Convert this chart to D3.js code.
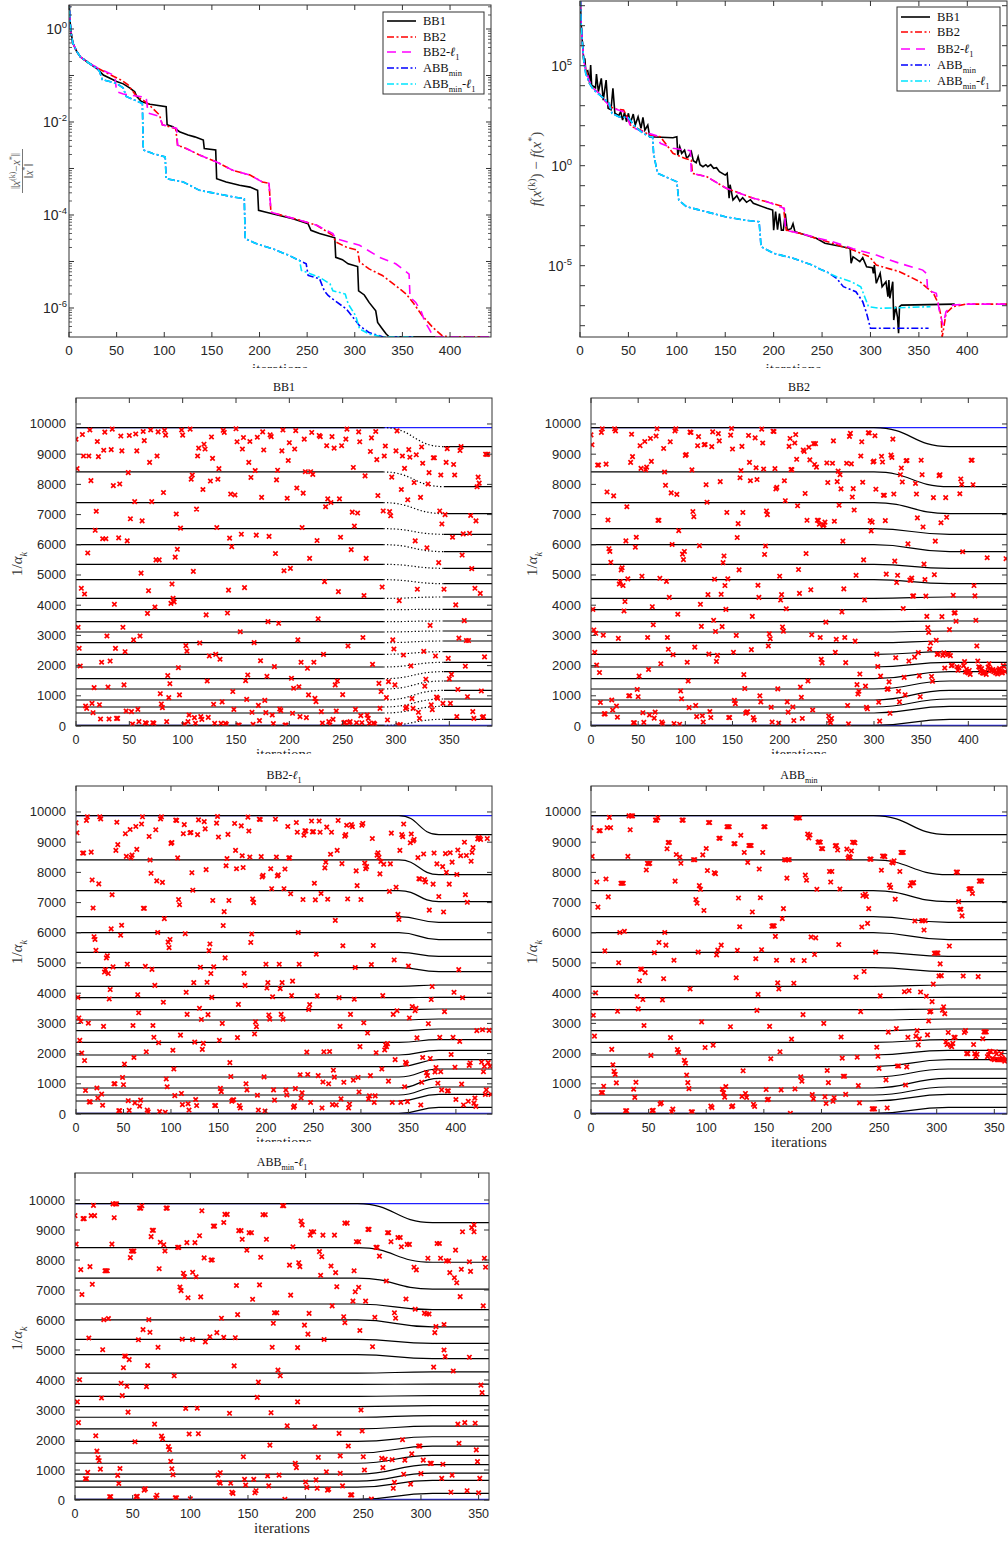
<!DOCTYPE html>
<html>
<head>
<meta charset="utf-8">
<script src="https://cdn.jsdelivr.net/npm/d3@7"></script>
<style>
body { margin: 0; background: #fff; }
svg { display: block; }
</style>
</head>
<body>
<svg id="fig" width="1008" height="1541"></svg>
<script>
// ---------- data: convergence curves, [iteration, log10 value] ----------
var errStart = [[0,0.7],[1,0.2],[2,-0.05],[4,-0.30],[8,-0.48],[12,-0.60],[20,-0.72]];
var errBB1 = [[30,-0.86],[36,-0.99],[43,-1.06],[50,-1.13],[57,-1.18],[64,-1.27],[69,-1.35],[71,-1.45],[76,-1.56],[85,-1.62],[102,-1.67],[103,-2.06],[109,-2.10],[116,-2.21],[125,-2.28],[132,-2.32],[141,-2.39],[142,-2.57],[154,-2.60],[155,-3.22],[165,-3.29],[179,-3.36],[190,-3.40],[198,-3.47],[199,-3.90],[207,-3.94],[221,-4.01],[235,-4.08],[251,-4.19],[254,-4.33],[263,-4.40],[279,-4.49],[280,-4.91],[287,-4.96],[293,-5.05],[303,-5.11],[304,-5.63],[310,-5.72],[315,-5.88],[322,-6.06],[324,-6.31],[329,-6.45],[333,-6.56],[336,-6.62],[388,-6.62]];
var errBB2 = [[30,-0.84],[40,-0.95],[47,-1.02],[55,-1.10],[62,-1.20],[71,-1.45],[80,-1.56],[85,-1.65],[95,-1.85],[98,-2.06],[112,-2.14],[114,-2.50],[123,-2.57],[137,-2.71],[155,-2.86],[172,-3.04],[190,-3.14],[203,-3.29],[210,-3.32],[212,-3.94],[224,-4.01],[242,-4.11],[260,-4.22],[277,-4.44],[280,-4.58],[291,-4.69],[303,-4.76],[305,-5.01],[315,-5.16],[329,-5.30],[343,-5.52],[354,-5.70],[361,-5.88],[371,-6.17],[382,-6.42],[392,-6.60],[399,-6.62],[443,-6.62]];
var errBB2L1 = [[30,-0.84],[40,-0.93],[48,-1.00],[50,-1.35],[57,-1.40],[81,-1.47],[83,-1.81],[95,-1.88],[98,-2.06],[113,-2.14],[114,-2.50],[123,-2.57],[137,-2.71],[155,-2.86],[172,-3.04],[190,-3.14],[203,-3.29],[210,-3.32],[212,-3.94],[224,-4.01],[242,-4.11],[260,-4.22],[277,-4.40],[280,-4.51],[305,-4.65],[326,-4.91],[343,-5.05],[357,-5.27],[358,-5.77],[364,-5.88],[370,-6.09],[373,-6.27],[378,-6.45],[382,-6.60],[385,-6.62],[443,-6.62]];
var errABB = [[30,-0.86],[32,-0.91],[35,-1.09],[50,-1.17],[57,-1.27],[60,-1.45],[77,-1.60],[78,-2.60],[88,-2.68],[101,-2.75],[102,-3.22],[120,-3.29],[137,-3.47],[155,-3.54],[172,-3.61],[184,-3.65],[185,-4.51],[197,-4.62],[214,-4.73],[231,-4.87],[242,-4.98]];
var errABBmin = [[249,-5.05],[251,-5.30],[263,-5.37],[268,-5.63],[272,-5.73],[277,-5.81],[291,-6.02],[298,-6.20],[305,-6.38],[315,-6.53],[326,-6.60],[329,-6.62],[360,-6.62]];
var errABBminL1 = [[244,-5.19],[263,-5.34],[274,-5.48],[277,-5.63],[290,-5.70],[293,-5.91],[301,-6.17],[305,-6.45],[315,-6.56],[326,-6.61],[329,-6.62],[362,-6.62]];

var fStart = [[0,9],[1,7.28],[2,6.45],[4,5.2]];
var fBB1 = [[5,5.37],[6,4.70],[8,4.75],[10,4.12],[11,5.03],[12,4.03],[16,3.90],[17,4.58],[19,3.70],[22,4.37],[24,3.28],[27,4.28],[29,2.87],[32,2.80],[34,3.87],[36,2.62],[40,2.50],[42,2.70],[44,2.28],[46,2.67],[48,2.20],[50,2.62],[52,2.12],[55,2.58],[57,2.03],[60,2.45],[63,1.87],[65,2.42],[67,1.78],[70,2.03],[72,1.45],[96,1.40],[100,1.45],[101,0.53],[103,0.95],[105,0.62],[108,0.78],[110,0.40],[112,0.45],[115,0.70],[117,0.25],[120,0.15],[122,0.45],[124,0.05],[127,-0.05],[130,0.05],[132,-0.05],[135,0.05],[138,-0.13],[141,-0.10],[144,-0.30],[150,-0.47],[152,-0.38],[154,-1.63],[155,-0.95],[158,-1.72],[162,-1.50],[165,-1.77],[168,-1.60],[172,-1.83],[176,-1.70],[179,-1.88],[193,-2.13],[199,-2.22],[200,-3.22],[202,-2.30],[204,-3.20],[206,-2.40],[208,-3.22],[210,-3.22],[212,-2.40],[214,-3.22],[218,-3.15],[220,-2.90],[222,-3.30],[244,-3.63],[253,-3.88],[279,-4.13],[280,-4.88],[282,-4.55],[289,-4.80],[292,-4.60],[296,-5.05],[302,-5.10],[303,-5.38],[304,-4.97],[306,-5.88],[310,-5.38],[312,-6.05],[316,-5.80],[318,-6.55],[319,-5.72],[320,-6.63],[323,-5.80],[324,-7.72],[326,-7.05],[328,-7.60],[329,-8.38],[330,-7.05],[332,-6.97],[387,-6.92]];
var fBB2 = [[6,4.8],[10,4.1],[14,3.85],[20,3.6],[25,3.3],[30,3.0],[35,2.85],[45,2.78],[48,2.5],[53,1.95],[60,1.85],[72,1.53],[83,1.45],[96,0.62],[108,0.37],[115,0.28],[116,-0.38],[131,-0.55],[151,-1.13],[165,-1.38],[179,-1.63],[193,-1.80],[210,-2.05],[213,-3.22],[227,-3.38],[244,-3.63],[261,-3.88],[282,-4.22],[299,-4.55],[306,-4.97],[330,-5.30],[351,-5.80],[365,-6.38],[370,-6.88],[373,-7.55],[374,-8.58],[376,-8.0],[378,-7.38],[385,-7.05],[399,-6.92],[443,-6.92]];
var fBB2L1 = [[6,4.8],[10,4.2],[14,3.85],[20,3.6],[25,3.3],[30,3.0],[35,2.85],[45,2.70],[50,2.3],[52,1.95],[65,1.7],[79,1.5],[83,1.12],[96,0.87],[114,0.75],[115,-0.38],[131,-0.55],[151,-1.13],[165,-1.38],[179,-1.63],[193,-1.80],[211,-2.13],[212,-3.0],[214,-3.25],[227,-3.38],[244,-3.60],[261,-3.80],[282,-4.15],[306,-4.47],[330,-4.88],[354,-5.22],[358,-5.40],[359,-6.22],[368,-6.38],[371,-7.22],[375,-7.97],[378,-7.30],[385,-6.97],[399,-6.92],[443,-6.92]];
var fABB = [[6,4.6],[10,4.1],[14,3.8],[20,3.55],[25,3.35],[30,3.12],[33,2.62],[40,2.45],[50,2.40],[57,1.95],[65,1.62],[72,1.45],[75,1.45],[76,0.62],[78,0.12],[80,-0.38],[88,-0.55],[100,-0.80],[102,-1.72],[110,-2.05],[130,-2.30],[150,-2.55],[170,-2.72],[185,-2.80],[187,-4.05],[200,-4.38],[220,-4.63],[240,-4.97],[250,-5.22]];
var fABBmin = [[255,-5.3],[265,-5.63],[272,-6.05],[285,-6.30],[292,-6.80],[296,-7.38],[300,-8.13],[360,-8.13]];
var fABBminL1 = [[265,-5.55],[280,-5.80],[290,-6.05],[294,-6.55],[298,-7.05],[310,-7.13],[362,-7.05]];

// ---------- data: eigenvalue tracks (start / end level of each line) ----------
var eigStart = [9879, 8411, 7395, 6534, 6004, 5353, 4845, 4227, 3852, 3455, 3113, 2759, 2373, 1954, 1567, 1225, 861, 629, 430, 20];
var eigEnd   = [9249, 7925, 7031, 6347, 5773, 5221, 4713, 4272, 3863, 3477, 3146, 2815, 2461, 2108, 1799, 1490, 1181, 894, 651, 221];
var lamExtremes = [9879, 20];

// ---------- data: 1/alpha_k per iteration ----------
var invBB1 = [9495,8520,3268,2572,1987,4560,9650,8940,4370,662,585,5730,8940,9800,8125,750,441,1270,6480,7110,9420,8920,706,232,2110,6200,9130,9730,6200,2980,1290,232,2150,9150,9830,7960,4030,2570,254,254,6230,8015,9600,9110,3268,1360,2460,497,6130,8390,9620,6860,475,66,2850,7430,9670,9110,552,144,2980,5060,6790,9750,9450,110,88,3730,4480,8730,9800,7430,110,88,3940,5500,8940,9740,5500,1070,730,607,7730,9790,9630,144,1670,940,1400,4060,4700,4230,4110,5590,7020,5850,1930,1030,6550,9800,9630,44,44,2660,2480,144,364,9830,8170,8310,5120,276,88,7180,8940,9200,2750,309,220,7830,9330,9170,3680,1490,287,2320,8110,9570,8860,718,88,2370,6570,8170,8520,2210,88,800,9790,9720,88,55,3740,4500,6220,7680,5940,1140,552,7650,9840,9410,33,33,3120,6350,9170,9550,4580,1500,880,1690,8730,9420,8230,453,55,2760,8460,6320,9560,684,177,2160,7570,9740,9140,850,442,1645,3455,6280,9640,9580,364,77,1965,5710,8150,8470,3400,563,508,9110,9800,5140,33,33,7540,8790,9380,5220,1580,420,1250,9170,9780,7880,2850,1300,309,2110,6570,7710,9500,8420,276,1910,1030,5550,8420,9720,8330,2110,915,805,6140,3550,9620,9580,475,100,2370,4780,7260,9280,7520,144,33,7400,9580,220,9200,1360,497,1490,4450,7520,6250,9280,1040,110,121,9500,9830,2650,110,144,5840,7080,8560,6620,552,110,7050,9740,9410,342,110,2930,4320,8280,5550,364,254,88,9090,9540,2040,100,66,9750,8820,7630,1410,585,1140,4600,7120,8940,9270,940,200,1470,7100,6960,8240,2850,2550,1360,9110,9770,33,4150,44,7830,8940,2350,8530,585,630,7490,9150,8900,1990,905,585,8060,6130,8980,4530,453,254,7570,9240,8700,2470,1320,1550,5900,8015,8390,3330,700,540,8880,8880,2320,960,915,5410,7120,8310,6690,750,4530,7000,8730,9180,2240,1560,750,1710,6250,8660,8310,4010,309,1210,2910,9120,9250,5660,6360,3490,1980,2830,970,2830,6380,6970,5210,475,254,4560,6790,7920,8240,8040,4390,1160,287,309,2290,9000,8990,9000];

var invBB2 = [9640,9310,3860,3180,2440,3070,2020,8640,8640,1770,780,9720,9840,3010,400,400,8670,7750,6820,5870,5780,5420,860,530,7620,
9840,9770,660,290,2900,4700,4780,5170,5240,4650,3810,4120,6130,7260,4870,1000,1000,8730,9660,8920,110,110,5920,6250,1210,
970,1650,9280,8530,4960,440,120,9420,8490,8570,2930,1870,370,9520,8760,3950,3350,260,460,9600,9840,6810,6810,4890,2060,
130,70,9190,8410,7970,4790,2930,2540,4260,9410,7720,6010,2360,80,9770,9840,7670,3700,6470,60,1160,900,5690,5510,5780,
8960,8990,2110,1490,610,9730,9720,8480,7100,6930,2610,680,310,9280,9580,5970,4030,3300,340,130,9310,9320,7990,7410,4350,
2380,480,280,9250,9740,3500,4860,3130,2140,2340,9680,9440,8090,4360,3290,5410,5630,4650,3860,7070,4870,280,280,9630,9850,
9170,2440,850,740,3000,6240,6700,5170,8220,8460,9260,7070,1700,1240,420,460,470,9620,8730,8120,2530,3630,280,200,9540,
8550,8160,4660,4260,1000,800,9830,9370,8510,5680,5960,7120,7000,2650,3050,2890,620,130,9760,9750,8520,7850,7900,1230,100,
4960,4170,4350,3280,3140,8120,7460,3880,800,460,9260,9520,8490,8490,630,180,9370,9650,8830,7290,5180,4390,1290,950,250,
9140,9090,7700,5710,6810,1490,9230,8810,4510,3020,530,9350,8660,9350,8570,6810,6810,6680,2930,2210,2090,6640,6660,6750,3440,
8710,8060,330,180,110,250,8700,9440,6780,2440,2870,8090,8440,7310,8320,7850,3780,6120,4540,2930,2100,8700,680,70,9590,
9690,8680,7580,7860,7150,2810,4990,1370,1060,1150,1720,8940,9410,8070,5500,4170,1320,620,570,9710,9700,6800,6460,6750,8740,
8770,9610,7840,2380,1970,790,160,1650,8930,8740,7640,7640,6800,5030,1220,1230,1460,420,8970,8890,9500,7680,5460,2260,4750,
4990,1150,800,8320,8540,8080,3890,1610,1030,8780,8790,6030,2150,4830,4830,4900,4300,4310,2280,8030,7680,6890,2430,1660,970,
8800,8320,6590,5360,4850,4300,3630,3260,3100,2550,2750,1640,1480,7560,5010,6120,2840,2370,2390,8290,8320,6730,3620,2340,2420,
1920,7560,6910,2380,2370,3190,2330,2000,2010,4330,3740,3750,3470,1960,1850,1930,7690,8180,8000,5770,2000,2130,1790,1880,1780,
1760,1840,1710,8800,8800,7990,4650,4310,3500,2650,2150,1960,1940,1790,1900,1760,1750,1760,1800,1710,5570,1950,2060,1900,1850,
1830,1870,1800,1840,1760,1780,1720,1850,1900,1830,1780,1760,2000,1970,1800,5540];

// BB2-l1 follows BB2 for the first 210 iterations, then:
var invBB2L1Tail = [9760,8510,7880,7920,4960,4150,3300,4350,3140,7460,8110,800,630,9520,8480,8480,7290,3920,4400,220,270,840,9650,9330,6010,4960,1300,530,700,7100,9230,9380,9370,2050,1310,3460,3620,380,9700,9340,
9350,7640,7090,5290,3910,1270,9700,9330,7300,200,1060,2060,8150,8340,9500,7110,1000,2070,8600,9330,310,1450,1220,6410,300,8730,9720,3850,2900,500,8290,5570,1050,9200,9250,9560,7120,200,330,3300,
9580,9510,1120,3800,4850,8050,7560,1210,730,2230,7100,9560,9620,3020,8310,8120,8190,2680,500,600,1270,4950,9120,5580,380,600,2030,8570,8650,8500,7950,8360,1490,3920,8270,2120,2290,2230,2330,1090,
7370,8280,9300,380,3300,5100,1800,7510,3420,6610,6440,8730,380,9250,9180,9600,900,1710,1660,410,4900,3180,8980,9270,3560,9040,9090,3420,3500,2520,8490,7790,7780,300,1050,1870,8610,7760,7680,1370,
1270,2990,6750,1840,3790,4220,7610,8640,1390,1540,8280,1020,7200,2540,1400,800,8190,6690,3390,8620,8000,760,770,7610,8650,1970,8340,2540,4030,1550,480,7930,8740,4780,2400,8550,990,3850,300,9000,
7260,8560,7010,420,1610,1690,8370,8660,8820,360,530,250,2760,9110,9150,9130,9090,1720,2790,1400,1580,650,800,9120,1700,2770,1580,650];

var invABBmin = [9480,8530,3270,2580,4010,7680,6850,9380,9380,710,710,920,5400,7780,9480,7190,9820,9480,2140,1630,1410,1310,1030,3400,5010,6010,7640,7640,7640,6050,
110,110,8530,9870,9410,9870,9870,820,550,1050,3890,3480,4410,4800,4790,3790,2930,4680,8080,8300,8290,8300,1940,110,120,5340,9730,9730,9810,5680,
330,370,3780,4480,6010,5590,8780,8990,8990,2530,70,160,5090,7710,8590,2130,2040,8510,8300,9730,9730,1780,1680,1290,1040,840,4140,70,70,8420,
8420,7100,6980,5360,7560,7440,3050,8580,6740,2200,8790,8060,9650,9650,260,210,2280,7990,7960,5270,5430,9130,9130,5590,820,700,560,910,9510,9510,
9510,2890,240,270,8950,8950,4510,5420,7150,6200,9230,580,1430,8660,680,550,8330,8890,8890,8890,6690,320,250,5140,3430,3960,8110,7160,5440,8660,
9510,9510,810,470,490,2900,1830,6220,6230,6230,5880,5090,4340,4140,2060,800,6470,6800,8420,8410,7810,8420,8420,20,2480,5090,4330,830,9800,9800,
9810,9800,1230,1090,3290,5080,7910,7740,9270,9140,9240,5860,640,500,5280,5830,7440,9000,9010,9000,8790,8780,3000,570,350,1440,1040,8030,7680,8030,
420,540,8880,8890,8740,5610,7450,2550,1850,1250,1250,650,8770,8480,8530,8500,8710,9000,9000,8980,4530,1880,940,370,3390,6190,7230,4720,7280,7200,
6310,6800,8440,8440,170,170,170,5360,2210,1910,1510,3910,8070,8540,8540,8520,1130,200,2710,7580,7500,8340,8310,8380,7110,2830,1590,1590,8030,8660,
8660,8660,4050,960,1560,2540,4080,7560,7650,7650,7660,6390,2580,2760,2290,2490,4040,6400,6400,6090,6400,3900,2620,3080,3380,3400,3720,4300,5320,5330,
5330,5330,4570,4970,4580,3440,3550,3320,2390,2300,2700,5560,2280,2230,2340,2540,2540,8010,8010,7030,6780,6780,6560,4570,2700,2760,2000,2000,7450,7460,
7460,7300,2300,2000,1900,1980,4550,7710,7720,7710,2490,2720,2720,2720,1900,1960,2080,2060,1830,1830,1800,2060,1990,1800,1800,1800,2000,1850,1800,1750,1800];

// ABBmin-l1 follows ABBmin for the first 100 iterations, then [iteration, 1/alpha]:
var invABBminL1Tail = [[100,40],[102,5350],[102,7590],[104,8580],[105,7440],[106,3060],[107,2210],[108,8810],[109,6770],[110,9640],[112,8070],[113,5270],[117,5440],[118,8000],[119,8000],[120,9130],[121,9130],[123,5580],[124,830],[125,590],[126,910],[126,560],[127,6060],[129,5420],[129,9250],[130,9520],[132,9520],[134,2890],[135,560],[136,260],[137,220],[138,4470],[139,5410],[140,7150],[141,6180],[142,8980],[144,8980],[145,8690],[146,1440],[147,690],[148,500],[149,8330],[151,8910],[153,8910],[154,6690],[155,690],[156,240],[157,310],[158,3420],[159,3930],[160,7170],[161,8090],[163,9510],[165,9510],[166,8690],[167,800],[168,470],[169,1830],[170,2910],[171,5090],[172,5890],[173,6240],[175,6240],[176,4330],[177,830],[178,4140],[180,9810],[181,9810],[182,20],[184,2470],[186,7830],[187,6830],[189,8440],[191,1220],[192,1080],[193,5080],[193,3270],[194,7910],[195,7780],[196,9300],[197,9170],[199,5830],[200,600],[201,420],[202,5530],[203,6220],[204,8830],[205,8940],[207,8940],[208,2440],[209,670],[210,390],[211,1420],[212,8280],[213,7490],[214,8110],[215,8830],[216,5350],[218,940],[219,330],[220,360],[222,7800],[223,6470],[225,8830],[226,7580],[227,7110],[229,2220],[230,890],[230,1470],[232,470],[233,6110],[234,5910],[234,9230],[236,9230],[237,1800],[239,170],[240,170],[241,6630],[242,7640],[243,6940],[244,8610],[246,8610],[246,7090],[247,5650],[248,3000],[249,2300],[250,1440],[251,1000],[252,6630],[254,9020],[255,9020],[257,30],[258,5110],[260,6090],[261,8420],[262,8420],[264,8130],[266,1390],[267,1080],[269,1360],[270,7300],[271,8910],[272,8910],[274,8610],[275,1340],[276,390],[277,590],[277,6240],[278,6060],[280,8750],[282,8750],[283,8440],[284,2010],[285,860],[286,1330],[287,6700],[288,8520],[290,8520],[291,530],[292,1540],[294,7760],[295,6360],[296,7670],[298,1800],[299,1800],[300,880],[302,1330],[303,6230],[305,6200],[306,8060],[307,6200],[308,1220],[309,1220],[311,4430],[312,5580],[313,5780],[314,8550],[316,8550],[317,8060],[318,720],[319,1190],[320,5000],[321,4780],[320,5850],[322,7970],[324,7970],[325,7580],[326,260],[327,830],[328,4300],[329,7410],[330,8330],[331,7240],[332,2530],[333,1890],[334,6780],[335,7690],[336,8940],[338,2580],[340,310],[342,4760],[342,7940],[343,7620],[344,9080],[346,9170],[346,8940],[347,2560],[348,1670],[349,1280],[350,240],[351,720],[352,3830],[353,3580],[354,6470],[355,8060],[356,7760]];

// ---------- setup ----------
var svg = d3.select("#fig");
var defs = svg.append("defs");
var AX = "#333";
var SANS = "'Liberation Sans', Arial, Helvetica, sans-serif";
var SERIF = "'Liberation Serif', 'DejaVu Serif', 'Times New Roman', serif";
var clipCount = 0;

function clipRect(x, y, w, h) {
  var id = "clip" + (clipCount++);
  defs.append("clipPath").attr("id", id)
    .append("rect").attr("x", x).attr("y", y).attr("width", w).attr("height", h);
  return "url(#" + id + ")";
}

// text made of pieces, some sub/superscript or italic
function rich(text, parts, fs) {
  var shift = 0;
  parts.forEach(function(p) {
    var target = p.sub ? fs * 0.3 : (p.sup ? -fs * 0.42 : 0);
    var ts = text.append("tspan").text(p.t).attr("dy", target - shift);
    if (p.sub || p.sup) ts.attr("font-size", fs * 0.68);
    if (p.it) ts.attr("font-style", "italic");
    shift = target;
  });
}

function byIter(arr) { return arr.map(function(v, i) { return [i, v]; }); }

var names = {
  BB1: [{t:"BB1"}],
  BB2: [{t:"BB2"}],
  BB2L1: [{t:"BB2-"},{t:"ℓ",it:true},{t:"1",sub:true}],
  ABBmin: [{t:"ABB"},{t:"min",sub:true}],
  ABBminL1: [{t:"ABB"},{t:"min",sub:true},{t:"-"},{t:"ℓ",it:true},{t:"1",sub:true}]
};
var DASHDOT = "7,2.5,2,2.5";
var styles = [
  {key:"BB1", color:"#000000", dash:null},
  {key:"BB2", color:"#ff0000", dash:DASHDOT},
  {key:"BB2L1", color:"#ff00ff", dash:"9,6"},
  {key:"ABBmin", color:"#0000ff", dash:DASHDOT},
  {key:"ABBminL1", color:"#00e5ff", dash:DASHDOT}
];

// ---------- log-scale convergence panel ----------
function logPanel(p) {
  var g = svg.append("g").attr("clip-path", clipRect(p.cell[0], p.cell[1], p.cell[2], p.cell[3]));
  var x = d3.scaleLinear().domain([0, p.xmax]).range([p.left, p.right]);
  var y = d3.scaleLog().domain([Math.pow(10, p.ymin), Math.pow(10, p.ymax)]).range([p.bottom, p.top]);

  var plot = g.append("g").attr("clip-path", clipRect(p.left, p.top, p.right - p.left, p.bottom - p.top));
  var line = d3.line().x(function(d) { return x(d[0]); }).y(function(d) { return y(Math.pow(10, d[1])); });
  p.series.forEach(function(s, i) {
    var st = styles[i];
    plot.append("path").datum(s).attr("d", line)
      .attr("fill", "none").attr("stroke", st.color).attr("stroke-width", 1.6)
      .attr("stroke-dasharray", st.dash);
  });

  g.append("rect").attr("x", p.left).attr("y", p.top)
    .attr("width", p.right - p.left).attr("height", p.bottom - p.top)
    .attr("fill", "none").attr("stroke", AX).attr("stroke-width", 1);

  // x ticks
  d3.range(0, p.xmax + 1, 50).forEach(function(v) {
    var xx = x(v);
    g.append("line").attr("x1", xx).attr("x2", xx).attr("y1", p.bottom).attr("y2", p.bottom - 5).attr("stroke", AX);
    g.append("line").attr("x1", xx).attr("x2", xx).attr("y1", p.top).attr("y2", p.top + 5).attr("stroke", AX);
    g.append("text").attr("x", xx).attr("y", p.bottom + 18).attr("text-anchor", "middle")
      .attr("font-family", SANS).attr("font-size", 13.5).attr("fill", "#262626").text(v);
  });
  // y ticks
  for (var e = Math.ceil(p.ymin); e <= Math.floor(p.ymax); e++) {
    var yy = y(Math.pow(10, e));
    g.append("line").attr("x1", p.left).attr("x2", p.left + 5).attr("y1", yy).attr("y2", yy).attr("stroke", AX);
    g.append("line").attr("x1", p.right).attr("x2", p.right - 5).attr("y1", yy).attr("y2", yy).attr("stroke", AX);
    if (p.labels.indexOf(e) >= 0) {
      var t = g.append("text").attr("x", p.left - p.labelGap).attr("y", yy + 5).attr("text-anchor", "end")
        .attr("font-family", SANS).attr("font-size", 14).attr("fill", "#262626");
      rich(t, [{t:"10"},{t:String(e),sup:true}], 14);
    }
  }
  if (p.minor) {
    for (var e2 = Math.floor(p.ymin); e2 <= Math.ceil(p.ymax); e2++) {
      for (var k = 2; k <= 9; k++) {
        var lv = e2 + Math.log10(k);
        if (lv <= p.ymin || lv >= p.ymax) continue;
        var ym = y(Math.pow(10, lv));
        g.append("line").attr("x1", p.left).attr("x2", p.left + 3).attr("y1", ym).attr("y2", ym).attr("stroke", AX).attr("stroke-width", 0.8);
        g.append("line").attr("x1", p.right).attr("x2", p.right - 3).attr("y1", ym).attr("y2", ym).attr("stroke", AX).attr("stroke-width", 0.8);
      }
    }
  }

  // x label (cut by the panel edge as in the figure)
  g.append("text").attr("x", (p.left + p.right) / 2).attr("y", p.xlabelY).attr("text-anchor", "middle")
    .attr("font-family", SERIF).attr("font-size", 15).attr("fill", "#262626").text("iterations");

  p.ylabel(g);

  // legend
  var L = p.legend;
  g.append("rect").attr("x", L.x).attr("y", L.y).attr("width", L.w).attr("height", L.h)
    .attr("fill", "#fff").attr("stroke", AX).attr("stroke-width", 1);
  styles.forEach(function(st, i) {
    var ly = L.rowY[i];
    g.append("line").attr("x1", L.x + 4).attr("x2", L.x + 33).attr("y1", ly).attr("y2", ly)
      .attr("stroke", st.color).attr("stroke-width", 1.6).attr("stroke-dasharray", st.dash);
    var t = g.append("text").attr("x", L.x + 40).attr("y", ly + 4)
      .attr("font-family", SERIF).attr("font-size", 12.5).attr("fill", "#111");
    rich(t, names[st.key], 12.5);
  });
}

// ---------- 1/alpha_k panel ----------
function alphaPanel(p) {
  var g = svg.append("g");
  if (p.cell) g.attr("clip-path", clipRect(p.cell[0], p.cell[1], p.cell[2], p.cell[3]));
  var x = d3.scaleLinear().domain([0, p.xmax]).range([p.left, p.right]);
  var y = d3.scaleLinear().domain([0, p.ymax]).range([p.bottom, p.top]);
  var plot = g.append("g").attr("clip-path", clipRect(p.left, p.top, p.right - p.left, p.bottom - p.top));

  lamExtremes.forEach(function(v) {
    plot.append("line").attr("x1", x(0)).attr("x2", x(p.xmax)).attr("y1", y(v)).attr("y2", y(v))
      .attr("stroke", "#2020ff").attr("stroke-width", 1.1);
  });

  var line = d3.line().curve(d3.curveBumpX)
    .x(function(d) { return x(d[0]); }).y(function(d) { return y(d[1]); });
  eigStart.forEach(function(s, i) {
    var e = eigEnd[i];
    if (p.dotted) {
      [[[0, s], [p.t0, s]], [[p.t1, e], [p.xmax, e]]].forEach(function(seg) {
        plot.append("path").datum(seg).attr("d", line).attr("fill", "none")
          .attr("stroke", "#000").attr("stroke-width", 1.2);
      });
      plot.append("path").datum([[p.t0, s], [p.t1, e]]).attr("d", line).attr("fill", "none")
        .attr("stroke", "#000").attr("stroke-width", 1.2).attr("stroke-dasharray", "1.3,2.2");
    } else {
      plot.append("path").datum([[0, s], [p.t0, s], [p.t1, e], [p.xmax, e]]).attr("d", line)
        .attr("fill", "none").attr("stroke", "#000").attr("stroke-width", 1.2);
    }
  });

  plot.selectAll("path.mk").data(p.marks).join("path").attr("class", "mk")
    .attr("transform", function(d) { return "translate(" + x(d[0]) + "," + y(d[1]) + ")"; })
    .attr("d", "M-2.2,-2.2L2.2,2.2M-2.2,2.2L2.2,-2.2")
    .attr("stroke", "#ff0000").attr("stroke-width", 1.7).attr("fill", "none");

  g.append("rect").attr("x", p.left).attr("y", p.top)
    .attr("width", p.right - p.left).attr("height", p.bottom - p.top)
    .attr("fill", "none").attr("stroke", AX).attr("stroke-width", 1);

  d3.range(0, p.xmax + 1, 50).forEach(function(v) {
    var xx = x(v);
    g.append("line").attr("x1", xx).attr("x2", xx).attr("y1", p.bottom).attr("y2", p.bottom - 5).attr("stroke", AX);
    g.append("line").attr("x1", xx).attr("x2", xx).attr("y1", p.top).attr("y2", p.top + 5).attr("stroke", AX);
    g.append("text").attr("x", xx).attr("y", p.bottom + 18).attr("text-anchor", "middle")
      .attr("font-family", SANS).attr("font-size", 12.5).attr("fill", "#262626").text(v);
  });
  d3.range(0, 10001, 1000).forEach(function(v) {
    var yy = y(v);
    g.append("line").attr("x1", p.left).attr("x2", p.left + 5).attr("y1", yy).attr("y2", yy).attr("stroke", AX);
    g.append("line").attr("x1", p.right).attr("x2", p.right - 5).attr("y1", yy).attr("y2", yy).attr("stroke", AX);
    g.append("text").attr("x", p.left - 10).attr("y", yy + 4.5).attr("text-anchor", "end")
      .attr("font-family", SANS).attr("font-size", 13).attr("fill", "#262626").text(v);
  });

  var title = g.append("text").attr("x", (p.left + p.right) / 2).attr("y", p.top - 7).attr("text-anchor", "middle")
    .attr("font-family", SERIF).attr("font-size", 12).attr("fill", "#111");
  rich(title, p.title, 12);

  var yl = g.append("text").attr("transform", "translate(" + p.ylabelX + "," + ((p.top + p.bottom) / 2 + 2) + ") rotate(-90)")
    .attr("text-anchor", "middle").attr("font-family", SERIF).attr("font-size", 15).attr("fill", "#333");
  rich(yl, [{t:"1/"},{t:"α",it:true},{t:"k",sub:true,it:true}], 15);

  g.append("text").attr("x", (p.left + p.right) / 2).attr("y", p.bottom + 33).attr("text-anchor", "middle")
    .attr("font-family", SERIF).attr("font-size", 15).attr("fill", "#262626").text("iterations");
}

// ---------- top row ----------
logPanel({
  cell: [0, 0, 504, 368], left: 69, right: 491, top: 5, bottom: 337, xmax: 443,
  ymin: -6.624, ymax: 0.516, labels: [0, -2, -4, -6], labelGap: 2, minor: true, xlabelY: 374,
  series: [errStart.concat(errBB1), errStart.concat(errBB2), errStart.concat(errBB2L1),
           errStart.concat(errABB, errABBmin), errStart.concat(errABB, errABBminL1)],
  legend: {x: 383, y: 12, w: 101, h: 82, rowY: [21, 37, 52, 68, 84]},
  ylabel: function(g) {
    var yl = g.append("g").attr("transform", "translate(22,171) rotate(-90)").attr("fill", "#555");
    var num = yl.append("text").attr("y", -2.5).attr("text-anchor", "middle")
      .attr("font-family", SERIF).attr("font-size", 11.5);
    rich(num, [{t:"‖"},{t:"x",it:true},{t:"(k)",sup:true},{t:"−"},{t:"x",it:true},{t:"*",sup:true},{t:"‖"}], 11.5);
    yl.append("line").attr("x1", -22).attr("x2", 22).attr("y1", 0.5).attr("y2", 0.5).attr("stroke", "#555").attr("stroke-width", 0.8);
    var den = yl.append("text").attr("y", 10.5).attr("text-anchor", "middle")
      .attr("font-family", SERIF).attr("font-size", 11.5);
    rich(den, [{t:"‖"},{t:"x",it:true},{t:"*",sup:true},{t:"‖"}], 11.5);
  }
});

logPanel({
  cell: [504, 0, 504, 368], left: 580, right: 1007, top: 1, bottom: 337, xmax: 441,
  ymin: -8.565, ymax: 8.235, labels: [5, 0, -5], labelGap: 8, minor: false, xlabelY: 374,
  series: [fStart.concat(fBB1), fStart.concat(fBB2), fStart.concat(fBB2L1),
           fStart.concat(fABB, fABBmin), fStart.concat(fABB, fABBminL1)],
  legend: {x: 897, y: 7, w: 103, h: 84, rowY: [17, 32, 49, 65, 81]},
  ylabel: function(g) {
    var t = g.append("text").attr("transform", "translate(541,169) rotate(-90)")
      .attr("text-anchor", "middle").attr("font-family", SERIF).attr("font-size", 15).attr("fill", "#444");
    rich(t, [{t:"f",it:true},{t:"("},{t:"x",it:true},{t:"(k)",sup:true},{t:") − "},{t:"f",it:true},{t:"("},{t:"x",it:true},{t:"*",sup:true},{t:")"}], 15);
  }
});

// ---------- 1/alpha_k panels ----------
alphaPanel({cell: [0, 372, 504, 382], left: 76, right: 492, top: 398, bottom: 726, xmax: 390, ymax: 10860,
  t0: 288, t1: 345, dotted: true, title: names.BB1, ylabelX: 22, marks: byIter(invBB1)});
alphaPanel({cell: [504, 372, 504, 382], left: 591, right: 1007, top: 398, bottom: 726, xmax: 441, ymax: 10860,
  t0: 300, t1: 380, title: names.BB2, ylabelX: 537, marks: byIter(invBB2)});
alphaPanel({cell: [0, 760, 504, 382], left: 76, right: 492, top: 786, bottom: 1114, xmax: 438, ymax: 10860,
  t0: 340, t1: 382, title: names.BB2L1, ylabelX: 22, marks: byIter(invBB2.slice(0, 210).concat(invBB2L1Tail))});
alphaPanel({left: 591, right: 1007, top: 786, bottom: 1114, xmax: 361, ymax: 10860,
  t0: 245, t1: 310, title: names.ABBmin, ylabelX: 537, marks: byIter(invABBmin)});
alphaPanel({left: 75, right: 489, top: 1173, bottom: 1500, xmax: 359, ymax: 10900,
  t0: 245, t1: 310, title: names.ABBminL1, ylabelX: 22, marks: byIter(invABBmin.slice(0, 100)).concat(invABBminL1Tail)});
</script>
</body>
</html>
